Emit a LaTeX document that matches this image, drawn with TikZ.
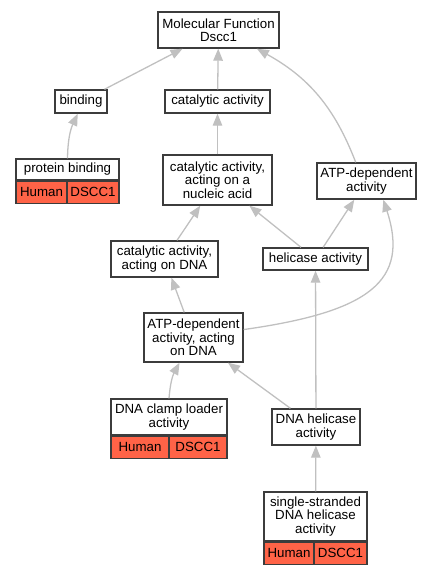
\documentclass[tikz,border=0pt]{standalone}
\usepackage{fontspec}
\setmainfont{Liberation Sans}
\usetikzlibrary{arrows.meta}
\definecolor{edgegray}{RGB}{192,192,192}
\definecolor{boxline}{RGB}{60,60,60}
\definecolor{tomato}{RGB}{255,99,71}

\begin{document}
\begin{tikzpicture}[
    x=1pt, y=-1pt,
    >={Triangle[length=12pt,width=9.5pt]},
    every edge/.style={draw=edgegray, line width=1.3pt},
    term/.style={draw=boxline, line width=1.4pt, fill=white, align=center, inner sep=0pt, font=\fontsize{13.3}{13.3}\selectfont},
    gene/.style={term, fill=tomato, minimum height=22pt}]

    \useasboundingbox (0,0) rectangle (432,573);

    \node at (218.5,30) [term, minimum width=121pt, minimum height=36pt] (mf) {Molecular Function\\Dscc1};
    \node at (81,101.5) [term, minimum width=52pt, minimum height=23pt] (binding) {binding};
    \node at (217.5,101.5) [term, minimum width=105pt, minimum height=23pt] (catact) {catalytic activity};

    \node at (67.5,169.5) [term, minimum width=103pt, minimum height=21pt] (protbind) {protein binding};
    \node [gene, anchor=north west, minimum width=51pt] (protbindorg) at (protbind.south west) {Human};
    \node [gene, anchor=north east, minimum width=52pt] (protbindgene) at (protbind.south east) {DSCC1};

    \node at (217.5,180) [term, minimum width=109pt, minimum height=50pt] (nucleic) {catalytic activity,\\acting on a\\nucleic acid};
    \node at (366.5,181) [term, minimum width=99pt, minimum height=36pt] (atpact) {ATP-dependent\\activity};
    \node at (164.5,259) [term, minimum width=107pt, minimum height=36pt] (catdna) {catalytic activity,\\acting on DNA};
    \node at (315.5,259) [term, minimum width=105pt, minimum height=22pt] (helic) {helicase activity};
    \node at (193.5,337.5) [term, minimum width=99pt, minimum height=49pt] (atpdna) {ATP-dependent\\activity, acting\\on DNA};

    \node at (169,417) [term, minimum width=116pt, minimum height=36pt] (clamp) {DNA clamp loader\\activity};
    \node [gene, anchor=north west, minimum width=58pt] (clamporg) at (clamp.south west) {Human};
    \node [gene, anchor=north east, minimum width=58pt] (clampgene) at (clamp.south east) {DSCC1};

    \node at (316,427) [term, minimum width=88pt, minimum height=36pt] (dnahel) {DNA helicase\\activity};

    \node at (315.5,516.5) [term, minimum width=103pt, minimum height=49pt] (ssdna) {single-stranded\\DNA helicase\\activity};
    \node [gene, anchor=north west, minimum width=50pt] (ssdnaorg) at (ssdna.south west) {Human};
    \node [gene, anchor=north east, minimum width=53pt] (ssdnagene) at (ssdna.south east) {DSCC1};

    \path (binding) edge [->] (mf);
    \path (catact) edge [->] (mf);
    \path (atpact.120) edge [->, bend right=20] (mf.-26);
    \path (protbind.north) edge [->, bend left=12] (binding.-105);
    \path (nucleic) edge [->] (catact);
    \path (catdna) edge [->] (nucleic);
    \path (helic) edge [->] (nucleic);
    \path (helic) edge [->] (atpact);
    \path (atpdna) edge [->] (catdna);
    \path (atpdna.9) edge [->, out=8, in=-72, out distance=128pt, in distance=85pt] (atpact.-48);
    \path (clamp.north) edge [->, bend left=12] (atpdna.-119);
    \path (dnahel) edge [->] (atpdna);
    \path (dnahel) edge [->] (helic);
    \path (ssdna) edge [->] (dnahel);

\end{tikzpicture}
\end{document}
